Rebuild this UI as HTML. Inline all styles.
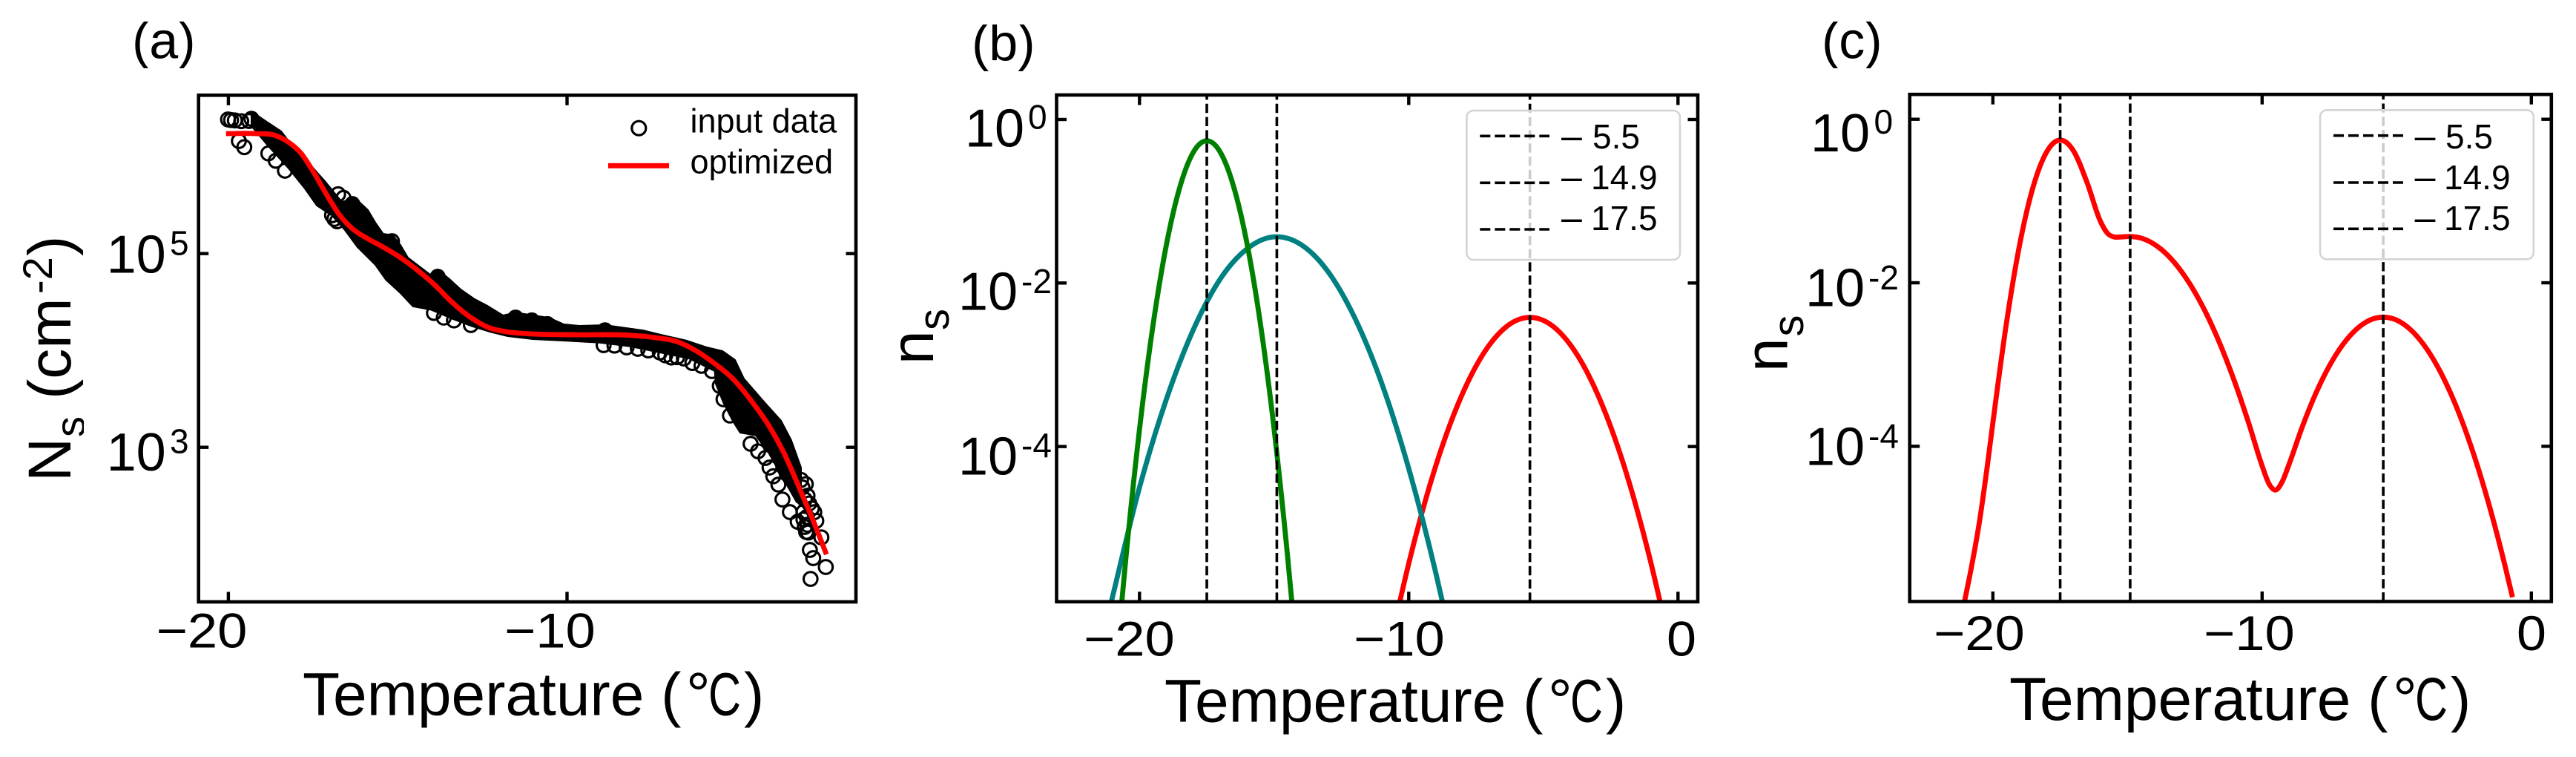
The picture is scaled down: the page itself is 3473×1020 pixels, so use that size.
<!DOCTYPE html>
<html lang="en">
<head>
<meta charset="utf-8">
<title>Ice nucleation spectra panels</title>
<style>
  html, body { margin: 0; padding: 0; background: #fff; }
  svg { display: block; }
  text { font-family: "Liberation Sans", Arial, sans-serif; fill: #000; }
</style>
</head>
<body>
<svg id="figure" xmlns="http://www.w3.org/2000/svg" width="3473" height="1020" viewBox="0 0 3473 1020">
  <defs>
    <clipPath id="clip-a"><rect x="267.7" y="128.3" width="886.3" height="682.7"/></clipPath>
    <clipPath id="clip-b"><rect x="1424.5" y="128" width="864.5" height="682.8"/></clipPath>
    <clipPath id="clip-c"><rect x="2574.7" y="127.2" width="865.1" height="683.3"/></clipPath>
    <clipPath id="clip-ylabel"><rect x="0" y="300" width="113" height="400"/></clipPath>
    <clipPath id="clip-la"><rect x="170" y="29" width="100" height="63"/></clipPath>
    <clipPath id="clip-lb"><rect x="1300" y="33" width="100" height="63"/></clipPath>
    <clipPath id="clip-lc"><rect x="2445" y="29" width="100" height="63"/></clipPath>
  </defs>
  <rect x="0" y="0" width="3473" height="1020" fill="#fff"/>

  <g id="panel-a"></g>
  <g id="panel-b"></g>
  <g id="panel-c"></g>

  <!-- panel labels -->
  <g clip-path="url(#clip-la)"><text x="178" y="78.3" font-size="70">(a)</text></g>
  <g clip-path="url(#clip-lb)"><text x="1310" y="81.7" font-size="70">(b)</text></g>
  <g clip-path="url(#clip-lc)"><text x="2456" y="78.3" font-size="70">(c)</text></g>

  <!-- panel a labels -->
  <g clip-path="url(#clip-ylabel)">
    <text transform="translate(95,649) rotate(-90)" font-size="82">N</text>
    <text transform="translate(114,589) rotate(-90)" font-size="56">s</text>
    <text transform="translate(95,538) rotate(-90)" font-size="82">(cm</text>
    <text transform="translate(70,396) rotate(-90)" font-size="56">-2</text>
    <text transform="translate(95,345) rotate(-90)" font-size="82">)</text>
  </g>
  <text x="143.6" y="367.7" font-size="72">10<tspan x="229" y="343.3" font-size="46">5</tspan></text>
  <text x="143.6" y="634" font-size="72">10<tspan x="229" y="610.7" font-size="46">3</tspan></text>
  <text x="210.6" y="872.7" font-size="66" textLength="122.8" lengthAdjust="spacingAndGlyphs">−20</text>
  <text x="680" y="872.7" font-size="66" textLength="122.8" lengthAdjust="spacingAndGlyphs">−10</text>
  <g>
    <text x="408" y="963.3" font-size="82">Temperature (</text>
    <text x="925" y="963.3" font-size="82">°</text>
    <text x="955" y="963.3" font-size="82" textLength="44" lengthAdjust="spacingAndGlyphs">C</text>
    <text x="1003" y="963.3" font-size="82">)</text>
  </g>
  <g>
    <circle cx="861.3" cy="172.7" r="9.5" fill="none" stroke="#000" stroke-width="3.2"/>
    <text x="930.5" y="178.3" font-size="45">input data</text>
    <rect x="820" y="219.8" width="82" height="7" fill="#ff0000"/>
    <text x="930.5" y="233.3" font-size="45">optimized</text>
  </g>

  <!-- panel b labels -->
  <g>
    <text transform="translate(1258,491) rotate(-90)" font-size="82">n</text>
    <text transform="translate(1279,445) rotate(-90)" font-size="58">s</text>
  </g>
  <text x="1301" y="197.3" font-size="72">10<tspan x="1386" y="173.3" font-size="46">0</tspan></text>
  <text x="1292" y="417.7" font-size="72">10<tspan x="1377" y="395" font-size="46">-2</tspan></text>
  <text x="1292" y="639.3" font-size="72">10<tspan x="1377" y="616" font-size="46">-4</tspan></text>
  <text x="1461" y="883.3" font-size="66" textLength="122.8" lengthAdjust="spacingAndGlyphs">−20</text>
  <text x="1825" y="883.3" font-size="66" textLength="122.8" lengthAdjust="spacingAndGlyphs">−10</text>
  <text x="2247" y="883.3" font-size="66" textLength="40" lengthAdjust="spacingAndGlyphs">0</text>
  <g>
    <text x="1570" y="972.7" font-size="82">Temperature (</text>
    <text x="2087" y="972.7" font-size="82">°</text>
    <text x="2117" y="972.7" font-size="82" textLength="44" lengthAdjust="spacingAndGlyphs">C</text>
    <text x="2165" y="972.7" font-size="82">)</text>
  </g>

  <!-- panel c labels -->
  <g>
    <text transform="translate(2409.6,501) rotate(-90)" font-size="82">n</text>
    <text transform="translate(2431,453.5) rotate(-90)" font-size="58">s</text>
  </g>
  <text x="2441" y="204" font-size="72">10<tspan x="2526.5" y="180" font-size="46">0</tspan></text>
  <text x="2434" y="412.7" font-size="72">10<tspan x="2519" y="390" font-size="46">-2</tspan></text>
  <text x="2434" y="626.7" font-size="72">10<tspan x="2519" y="603.3" font-size="46">-4</tspan></text>
  <text x="2607" y="876" font-size="66" textLength="122.8" lengthAdjust="spacingAndGlyphs">−20</text>
  <text x="2971" y="876" font-size="66" textLength="122.8" lengthAdjust="spacingAndGlyphs">−10</text>
  <text x="3393" y="876" font-size="66" textLength="40" lengthAdjust="spacingAndGlyphs">0</text>
  <g>
    <text x="2709" y="970" font-size="82">Temperature (</text>
    <text x="3226" y="970" font-size="82">°</text>
    <text x="3256" y="970" font-size="82" textLength="44" lengthAdjust="spacingAndGlyphs">C</text>
    <text x="3304" y="970" font-size="82">)</text>
  </g>

  <!-- peak legends -->
  <g>
    <rect x="1977.4" y="149" width="287.6" height="201" rx="9" fill="#fff" fill-opacity="0.8" stroke="#d4d4d4" stroke-width="2.6"/>
    <line x1="1995.3" x2="2089" y1="183.3" y2="183.3" stroke="#000" stroke-width="3.6" stroke-dasharray="14,6"/>
    <line x1="1995.3" x2="2089" y1="246.3" y2="246.3" stroke="#000" stroke-width="3.6" stroke-dasharray="14,6"/>
    <line x1="1995.3" x2="2089" y1="309" y2="309" stroke="#000" stroke-width="3.6" stroke-dasharray="14,6"/>
    <text x="2105" y="200" font-size="50">–<tspan x="2147" font-size="46">5.5</tspan></text>
    <text x="2105" y="255" font-size="50">–<tspan x="2145" font-size="46">14.9</tspan></text>
    <text x="2105" y="310" font-size="50">–<tspan x="2145" font-size="46">17.5</tspan></text>
  </g>
  <g>
    <rect x="3128" y="148.3" width="287.8" height="201" rx="9" fill="#fff" fill-opacity="0.8" stroke="#d4d4d4" stroke-width="2.6"/>
    <line x1="3146" x2="3240" y1="182.7" y2="182.7" stroke="#000" stroke-width="3.6" stroke-dasharray="14,6"/>
    <line x1="3146" x2="3240" y1="246" y2="246" stroke="#000" stroke-width="3.6" stroke-dasharray="14,6"/>
    <line x1="3146" x2="3240" y1="308.3" y2="308.3" stroke="#000" stroke-width="3.6" stroke-dasharray="14,6"/>
    <text x="3255.6" y="200" font-size="50">–<tspan x="3297" font-size="46">5.5</tspan></text>
    <text x="3255.6" y="255" font-size="50">–<tspan x="3295" font-size="46">14.9</tspan></text>
    <text x="3255.6" y="310" font-size="50">–<tspan x="3295" font-size="46">17.5</tspan></text>
  </g>
</svg>

<script>
// ---------- Panel (a): values as (temperature in degC, log10 Ns) ----------
const optimizedT = [-20.07,-19.21,-18.60,-18.22,-17.85,-17.47,-17.09,-16.71,-16.34,-15.88,-15.43,-14.92,-14.39,-13.93,-13.41,-12.88,-12.35,-11.75,-11.0,-9.64,-8.13,-7.38,-6.77,-6.17,-5.64,-5.11,-4.51,-4.05,-3.60,-3.09,-2.72,-2.34];
const optimizedLogNs = [6.239,6.239,6.218,6.149,6.034,5.833,5.603,5.396,5.258,5.153,5.067,4.959,4.821,4.684,4.502,4.349,4.241,4.191,4.170,4.162,4.157,4.132,4.093,3.992,3.864,3.710,3.457,3.228,2.944,2.538,2.232,1.894];

// Dense part of the measured data: upper and lower limits of the overlapping markers.
const denseUpperT = [-19.32,-18.90,-18.44,-18.22,-17.85,-17.39,-17.17,-16.65,-16.25,-15.88,-15.66,-15.43,-15.14,-14.92,-14.70,-14.04,-13.82,-13.45,-13.14,-12.73,-12.35,-11.89,-11.52,-11.0,-10.54,-10.10,-9.64,-8.88,-7.76,-7.14,-6.46,-5.87,-5.41,-5.04,-4.78,-4.21,-3.68,-3.38,-3.09];
const denseUpperLogNs = [6.469,6.369,6.262,6.162,6.032,5.841,5.756,5.534,5.572,5.450,5.320,5.205,5.189,5.090,4.959,4.783,4.837,4.730,4.630,4.530,4.461,4.362,4.392,4.362,4.339,4.270,4.254,4.262,4.208,4.155,4.101,4.032,3.994,3.902,3.710,3.480,3.274,3.074,2.791];
const denseLowerT = [-19.32,-18.82,-18.22,-17.76,-17.39,-16.93,-16.56,-16.19,-15.66,-15.35,-14.92,-14.55,-14.02,-13.41,-12.81,-12.28,-11.75,-11.0,-10.10,-9.03,-8.13,-7.07,-6.40,-5.64,-5.61,-5.38,-5.11,-4.89,-4.43,-4.05,-3.68,-3.22,-3.09];
const denseLowerLogNs = [6.316,6.109,5.879,5.680,5.496,5.390,5.243,5.067,4.883,4.730,4.592,4.454,4.420,4.330,4.250,4.193,4.147,4.116,4.101,4.080,4.042,3.965,3.917,3.787,3.657,3.457,3.274,3.151,3.123,2.944,2.714,2.433,2.410];

// Individually visible open circles.
const inputT = [-20.01,-19.92,-19.81,-19.62,-19.32,-19.39,-19.69,-19.53,-18.82,-18.60,-18.33,-16.76,-16.60,-16.34,-16.94,-16.87,-16.79,-15.17,-13.82,-11.52,-11.04,-10.58,-13.34,-12.84,-13.93,-13.64,-8.88,-8.92,-8.60,-8.24,-7.91,-7.60,-7.26,-7.10,-6.92,-6.75,-6.55,-6.30,-6.03,-5.72,-5.49,-5.38,-5.19,-4.58,-4.36,-4.14,-4.02,-3.91,-3.76,-3.64,-3.42,-3.19,-3.09,-3.05,-2.98,-2.95,-2.90,-2.85,-2.77,-2.70,-2.64,-2.49,-2.94,-2.92,-2.90,-2.88,-2.83,-2.73,-2.36,-2.81,-3.02,-2.98,-3.02];
const inputLogNs = [6.385,6.379,6.375,6.367,6.392,6.369,6.162,6.099,6.034,5.958,5.856,5.613,5.575,5.511,5.396,5.358,5.333,5.128,4.760,4.339,4.310,4.272,4.310,4.262,4.387,4.339,4.208,4.055,4.050,4.032,4.017,4.000,3.979,3.950,3.927,3.930,3.917,3.870,3.841,3.787,3.634,3.496,3.328,3.036,2.959,2.890,2.791,2.701,2.615,2.461,2.331,2.231,2.663,2.586,2.461,2.620,2.500,2.420,2.369,2.330,2.241,2.070,2.126,2.280,2.200,2.120,1.940,1.856,1.764,1.641,2.254,2.178,2.331];

const xTicksA = [-20,-10];
const yTicksA = [5,3];

// ---------- Panel (b): component spectra (degC, log10 ns) ----------
const greenT = [-20.7,-20.5,-20,-19.5,-19,-18.5,-18,-17.5,-17,-16.5,-16,-15.5,-15,-14.5,-14.3];
const greenLogN = [-6.05,-5.345,-3.79,-2.52,-1.53,-0.825,-0.40,-0.26,-0.40,-0.825,-1.53,-2.52,-3.79,-5.345,-6.05];
const tealT = [-21.1,-20,-19,-18,-17,-16,-15,-14.9,-14,-13,-12,-11,-10,-9,-8.7];
const tealLogN = [-5.97,-4.50,-3.42,-2.57,-1.95,-1.58,-1.435,-1.434,-1.53,-1.86,-2.43,-3.23,-4.27,-5.54,-5.97];
const redT = [-10.4,-10,-9,-8,-7,-6,-5.5,-5,-4,-3,-2,-1,-0.6];
const redLogN = [-5.99,-5.43,-4.24,-3.35,-2.755,-2.457,-2.42,-2.457,-2.755,-3.35,-4.24,-5.43,-5.99];

// ---------- Panel (c): total spectrum (degC, log10 ns) ----------
const totalT = [-21.06,-20.8,-20.5,-20.2,-20,-19.5,-19,-18.5,-18,-17.75,-17.5,-17.25,-17,-16.5,-16,-15.75,-15.5,-15.25,-14.9,-14.5,-14,-13.5,-13,-12.5,-12,-11,-10.5,-10,-9.75,-9.5,-9.25,-9,-8.5,-8,-7.5,-7,-6.5,-6,-5.5,-5,-4.5,-4,-3.5,-3,-2.5,-2,-1.5,-1,-0.7];
const totalLogN = [-5.91,-5.485,-4.926,-4.225,-3.714,-2.503,-1.525,-0.822,-0.398,-0.29,-0.255,-0.288,-0.389,-0.775,-1.252,-1.392,-1.439,-1.439,-1.434,-1.453,-1.53,-1.665,-1.86,-2.114,-2.426,-3.229,-3.714,-4.238,-4.455,-4.535,-4.43,-4.22,-3.755,-3.349,-3.015,-2.755,-2.569,-2.457,-2.42,-2.457,-2.569,-2.755,-3.015,-3.349,-3.758,-4.242,-4.799,-5.431,-5.846];

const peakTemps = [-5.5,-14.9,-17.5];
const xTicksSpectrum = [-20,-10,0];
const yTicksSpectrum = [0,-2,-4];

// ---------- Axis functions ----------
const axisA = {
  left: 267.7, right: 1154, top: 128.3, bottom: 811,
  x: function (t) { return 307.9 + (t + 20) * 45.66; },
  y: function (l) { return 341.7 - (l - 5) * 130.5; }
};
const axisB = {
  left: 1424.5, right: 2289, top: 128, bottom: 810.8,
  x: function (t) { return 2262.3 + t * 36.3; },
  y: function (l) { return 161 - l * 110.17; }
};
const axisC = {
  left: 2574.7, right: 3439.8, top: 127.2, bottom: 810.5,
  x: function (t) { return 3412.8 + t * 36.3; },
  y: function (l) { return 160.7 - l * 110.17; }
};

const SVG_NS = 'http://www.w3.org/2000/svg';

function make(parent, tag) {
  const el = document.createElementNS(SVG_NS, tag);
  parent.appendChild(el);
  return el;
}

// Smooth curve through the read points; tangents account for uneven point spacing.
function smoothPath(axis, ts, ls) {
  const px = ts.map(axis.x);
  const py = ls.map(axis.y);
  const n = px.length;
  const slope = [];
  for (let i = 0; i < n; i++) {
    if (i === 0) {
      slope.push((py[1] - py[0]) / (px[1] - px[0]));
    } else if (i === n - 1) {
      slope.push((py[n - 1] - py[n - 2]) / (px[n - 1] - px[n - 2]));
    } else {
      const h0 = px[i] - px[i - 1];
      const h1 = px[i + 1] - px[i];
      const d0 = (py[i] - py[i - 1]) / h0;
      const d1 = (py[i + 1] - py[i]) / h1;
      slope.push((h1 * d0 + h0 * d1) / (h0 + h1));
    }
  }
  let d = 'M' + px[0].toFixed(2) + ' ' + py[0].toFixed(2);
  for (let i = 0; i < n - 1; i++) {
    const h = (px[i + 1] - px[i]) / 3;
    d += 'C' + (px[i] + h).toFixed(2) + ' ' + (py[i] + slope[i] * h).toFixed(2) + ' ' + (px[i + 1] - h).toFixed(2) + ' ' + (py[i + 1] - slope[i + 1] * h).toFixed(2) + ' ' + px[i + 1].toFixed(2) + ' ' + py[i + 1].toFixed(2);
  }
  return d;
}

function drawCurve(parent, axis, ts, ls, color, clipId, name) {
  const el = make(parent, 'path');
  
  
  el.setAttribute('d', smoothPath(axis, ts, ls));
  el.setAttribute('fill', 'none');
  el.setAttribute('stroke', color);
  el.setAttribute('stroke-width', '6.8');
  el.setAttribute('clip-path', 'url(#' + clipId + ')');
}

function drawFrame(parent, axis, xTicks, yTicks) {
  const tickLen = 13.5;
  xTicks.forEach(function (t) {
    [[axis.bottom, axis.bottom - tickLen], [axis.top, axis.top + tickLen]].forEach(function (p) {
      const tick = make(parent, 'line');
      
      
      tick.setAttribute('x1', axis.x(t));
      tick.setAttribute('x2', axis.x(t));
      tick.setAttribute('y1', p[0]);
      tick.setAttribute('y2', p[1]);
      tick.setAttribute('stroke', '#000');
      tick.setAttribute('stroke-width', '4.4');
    });
  });
  yTicks.forEach(function (l) {
    [[axis.left, axis.left + tickLen], [axis.right, axis.right - tickLen]].forEach(function (p) {
      const tick = make(parent, 'line');
      
      
      tick.setAttribute('y1', axis.y(l));
      tick.setAttribute('y2', axis.y(l));
      tick.setAttribute('x1', p[0]);
      tick.setAttribute('x2', p[1]);
      tick.setAttribute('stroke', '#000');
      tick.setAttribute('stroke-width', '4.4');
    });
  });
  const frame = make(parent, 'rect');
  
  
  frame.setAttribute('x', axis.left);
  frame.setAttribute('y', axis.top);
  frame.setAttribute('width', axis.right - axis.left);
  frame.setAttribute('height', axis.bottom - axis.top);
  frame.setAttribute('fill', 'none');
  frame.setAttribute('stroke', '#000');
  frame.setAttribute('stroke-width', '4.6');
}

function drawPeakLines(parent, axis) {
  peakTemps.forEach(function (t) {
    const line = make(parent, 'line');
    
    
    line.setAttribute('x1', axis.x(t));
    line.setAttribute('x2', axis.x(t));
    line.setAttribute('y1', axis.bottom);
    line.setAttribute('y2', axis.top);
    line.setAttribute('stroke', '#000');
    line.setAttribute('stroke-width', '3.6');
    line.setAttribute('stroke-dasharray', '12.4,5.4');
  });
}

// ---------- Panel (a) ----------
const panelA = document.getElementById('panel-a');
const bandPoints = [];
denseUpperT.forEach(function (t, i) {
  bandPoints.push(axisA.x(t).toFixed(2) + ',' + axisA.y(denseUpperLogNs[i]).toFixed(2));
});
for (let i = denseLowerT.length - 1; i >= 0; i--) {
  bandPoints.push(axisA.x(denseLowerT[i]).toFixed(2) + ',' + axisA.y(denseLowerLogNs[i]).toFixed(2));
}
const band = make(panelA, 'polygon');


band.setAttribute('points', bandPoints.join(' '));
band.setAttribute('fill', '#000');
band.setAttribute('stroke', '#000');
band.setAttribute('stroke-width', '2');
band.setAttribute('stroke-linejoin', 'round');

inputT.forEach(function (t, i) {
  const c = make(panelA, 'circle');
  
  
  c.setAttribute('cx', axisA.x(t).toFixed(2));
  c.setAttribute('cy', axisA.y(inputLogNs[i]).toFixed(2));
  c.setAttribute('r', '9.3');
  c.setAttribute('fill', 'none');
  c.setAttribute('stroke', '#000');
  c.setAttribute('stroke-width', '3.1');
});
drawCurve(panelA, axisA, optimizedT, optimizedLogNs, '#ff0000', 'clip-a', 'optimized-curve');
drawFrame(panelA, axisA, xTicksA, yTicksA);

// ---------- Panel (b) ----------
const panelB = document.getElementById('panel-b');
drawCurve(panelB, axisB, redT, redLogN, '#ff0000', 'clip-b', 'component-curve-red');
drawCurve(panelB, axisB, tealT, tealLogN, '#008080', 'clip-b', 'component-curve-teal');
drawCurve(panelB, axisB, greenT, greenLogN, '#008000', 'clip-b', 'component-curve-green');
drawPeakLines(panelB, axisB);
drawFrame(panelB, axisB, xTicksSpectrum, yTicksSpectrum);

// ---------- Panel (c) ----------
const panelC = document.getElementById('panel-c');
drawCurve(panelC, axisC, totalT, totalLogN, '#ff0000', 'clip-c', 'total-spectrum-curve');
drawPeakLines(panelC, axisC);
drawFrame(panelC, axisC, xTicksSpectrum, yTicksSpectrum);
</script>
</body>
</html>
